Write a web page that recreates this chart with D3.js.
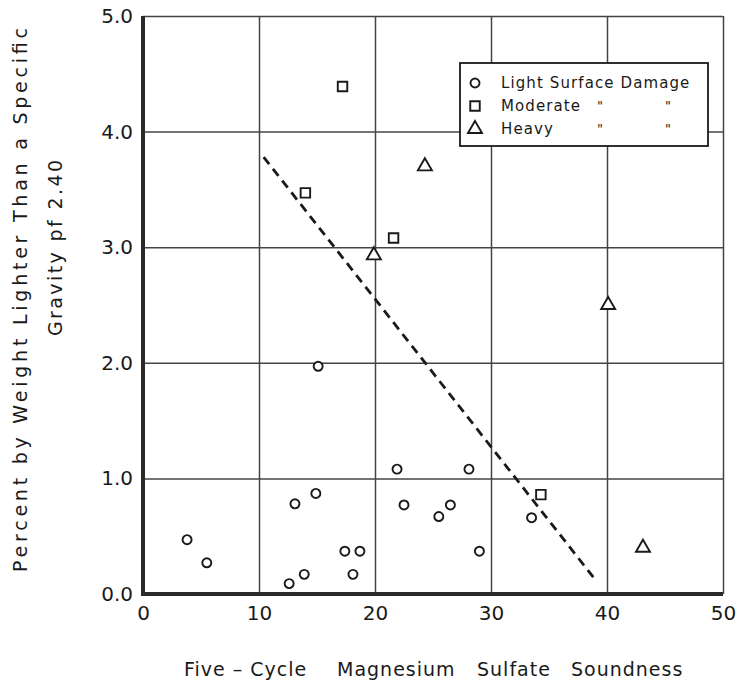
<!DOCTYPE html>
<html>
<head>
<meta charset="utf-8">
<script src="https://cdn.jsdelivr.net/npm/d3@7"></script>
<style>
  body { margin: 0; background: #fff; }
  text { font-family: 'DejaVu Sans', sans-serif; fill: #1a1a1a; }
</style>
</head>
<body>
<div id="chart"></div>
<script>
// Data
const lightX = [3.8, 5.5, 12.6, 13.1, 13.9, 14.9, 15.1, 17.4, 18.1, 18.7, 21.9, 22.5, 25.5, 26.5, 28.1, 29.0, 33.5]
const lightY = [0.47, 0.27, 0.09, 0.78, 0.17, 0.87, 1.97, 0.37, 0.17, 0.37, 1.08, 0.77, 0.67, 0.77, 1.08, 0.37, 0.66]
const moderateX = [14.0, 17.2, 21.6, 34.3]
const moderateY = [3.47, 4.39, 3.08, 0.86]
const heavyX = [19.9, 24.3, 40.1, 43.1]
const heavyY = [2.93, 3.70, 2.50, 0.40]
const trendX = [10.4, 39.1]
const trendY = [3.78, 0.11]

const xTicks = [0, 10, 20, 30, 40, 50]
const yTicks = [0, 1, 2, 3, 4, 5]
const legendLabels = ['Light Surface Damage', 'Moderate', 'Heavy']

const margin = { top: 16, left: 143, right: 17, bottom: 87 }
const width = 740 - margin.left - margin.right
const height = 681 - margin.top - margin.bottom

const svg = d3.select('#chart')
  .append('svg')
  .attr('width', 740)
  .attr('height', 681)

const g = svg.append('g')
  .attr('transform', 'translate(' + margin.left + ',' + margin.top + ')')

const xPositionScale = d3.scaleLinear().domain([0, 50]).range([0, width])
const yPositionScale = d3.scaleLinear().domain([0, 5]).range([height, 0])

// grid
const xGrid = d3.axisBottom(xPositionScale).tickValues(xTicks).tickSize(-height).tickFormat('')
g.append('g')
  .attr('class', 'grid')
  .attr('transform', 'translate(0,' + height + ')')
  .call(xGrid)
  .call(s => s.select('.domain').remove())
  .selectAll('.tick line')
  .attr('stroke', '#444')
  .attr('stroke-width', 1.5)

const yGrid = d3.axisLeft(yPositionScale).tickValues(yTicks).tickSize(-width).tickFormat('')
g.append('g')
  .attr('class', 'grid')
  .call(yGrid)
  .call(s => s.select('.domain').remove())
  .selectAll('.tick line')
  .attr('stroke', '#444')
  .attr('stroke-width', 1.5)

// heavy left + bottom frame
g.append('line')
  .attr('x1', 0).attr('x2', 0)
  .attr('y1', yPositionScale(5)).attr('y2', yPositionScale(0) + 2)
  .attr('stroke', '#2a2a2a').attr('stroke-width', 4)
g.append('line')
  .attr('x1', -2).attr('x2', xPositionScale(50))
  .attr('y1', yPositionScale(0)).attr('y2', yPositionScale(0))
  .attr('stroke', '#2a2a2a').attr('stroke-width', 4)

// tick labels
const xAxis = d3.axisBottom(xPositionScale).tickValues(xTicks).tickSize(0).tickPadding(12)
g.append('g')
  .attr('class', 'axis x-axis')
  .attr('transform', 'translate(0,' + height + ')')
  .call(xAxis)
  .call(s => s.select('.domain').remove())
  .selectAll('text')
  .attr('font-size', 20)
  .attr('fill', '#1a1a1a')
  .style('font-family', "'DejaVu Sans', sans-serif")

const yAxis = d3.axisLeft(yPositionScale).tickValues(yTicks).tickSize(0).tickPadding(10)
  .tickFormat(d3.format('.1f'))
g.append('g')
  .attr('class', 'axis y-axis')
  .call(yAxis)
  .call(s => s.select('.domain').remove())
  .selectAll('text')
  .attr('font-size', 20)
  .attr('fill', '#1a1a1a')
  .style('font-family', "'DejaVu Sans', sans-serif")

// trend line
const line = d3.line().x(d => xPositionScale(d[0])).y(d => yPositionScale(d[1]))
g.append('path')
  .datum(d3.zip(trendX, trendY))
  .attr('d', line)
  .attr('fill', 'none')
  .attr('stroke', '#1a1a1a')
  .attr('stroke-width', 2.8)
  .attr('stroke-dasharray', '9 6')

// marker shapes
const circlePath = d3.symbol().type(d3.symbolCircle).size(64)
const squarePath = d3.symbol().type(d3.symbolSquare).size(90)
const trianglePath = d3.symbol().type(d3.symbolTriangle).size(85)

function drawMarks(xs, ys, shape) {
  g.append('g')
    .selectAll('path')
    .data(d3.zip(xs, ys))
    .enter()
    .append('path')
    .attr('d', shape)
    .attr('transform', d => 'translate(' + xPositionScale(d[0]) + ',' + yPositionScale(d[1]) + ')')
    .attr('fill', '#fff')
    .attr('stroke', '#1a1a1a')
    .attr('stroke-width', 1.9)
}
drawMarks(lightX, lightY, circlePath)
drawMarks(moderateX, moderateY, squarePath)
drawMarks(heavyX, heavyY, trianglePath)

// legend
const legend = g.append('g').attr('transform', 'translate(' + (460 - margin.left) + ',' + (63 - margin.top) + ')')
legend.append('rect')
  .attr('width', 248).attr('height', 83)
  .attr('fill', '#fff')
  .attr('stroke', '#1a1a1a')
  .attr('stroke-width', 1.8)
const shapes = [circlePath, squarePath, trianglePath]
legendLabels.forEach((label, i) => {
  const cy = 20 + i * 23
  legend.append('path')
    .attr('d', shapes[i])
    .attr('transform', 'translate(15,' + cy + ')')
    .attr('fill', '#fff')
    .attr('stroke', '#1a1a1a')
    .attr('stroke-width', 1.9)
  legend.append('text')
    .text(label)
    .attr('x', 41).attr('y', cy + 5)
    .attr('font-size', 15)
    .attr('letter-spacing', 1.1)
  if (i > 0) {
    ;[140, 208].forEach(dx => {
      legend.append('text')
        .text('"')
        .attr('x', dx).attr('y', cy + 4)
        .attr('font-size', 13)
        .attr('text-anchor', 'middle')
    })
  }
})

// axis titles
const xTitleWords = ['Five – Cycle', 'Magnesium', 'Sulfate', 'Soundness']
const xTitleStarts = [184, 337, 477, 571]
xTitleWords.forEach((w, i) => {
  svg.append('text')
    .text(w)
    .attr('x', xTitleStarts[i])
    .attr('y', 676)
    .attr('font-size', 19)
    .attr('letter-spacing', 1)
})

svg.append('text')
  .text('Percent by Weight Lighter Than a Specific')
  .attr('transform', 'translate(27,300) rotate(-90)')
  .attr('text-anchor', 'middle')
  .attr('font-size', 19)
  .attr('textLength', 544)
  .attr('lengthAdjust', 'spacing')

svg.append('text')
  .text('Gravity pf 2.40')
  .attr('transform', 'translate(62,248) rotate(-90)')
  .attr('text-anchor', 'middle')
  .attr('font-size', 19)
  .attr('textLength', 176)
  .attr('lengthAdjust', 'spacing')
</script>
</body>
</html>
